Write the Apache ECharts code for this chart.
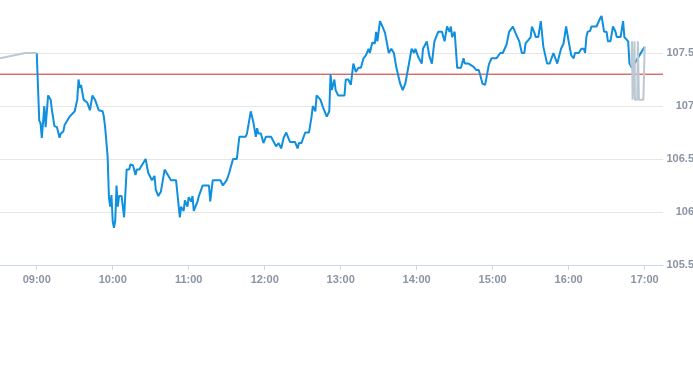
<!DOCTYPE html>
<html>
<head>
<meta charset="utf-8">
<script src="https://cdn.jsdelivr.net/npm/echarts@6/dist/echarts.min.js"></script>
<style>html,body{margin:0;padding:0;background:#fff}#c{width:693px;height:365px}</style>
</head>
<body>
<div id="c"></div>
<script>
// Regular session (blue)
const sessionTimes = ["09:00","09:02","09:03","09:04","09:06","09:07","09:09","09:11","09:12","09:14","09:16","09:18","09:19","09:21","09:22","09:26","09:30","09:32","09:33","09:34","09:35","09:36","09:37","09:40","09:42","09:44","09:46","09:49","09:52","09:53","09:54","09:56","09:57","09:58","09:59","10:00","10:01","10:02","10:03","10:04","10:05","10:07","10:09","10:11","10:13","10:14","10:16","10:18","10:19","10:21","10:26","10:28","10:31","10:33","10:34","10:36","10:38","10:41","10:46","10:50","10:53","10:54","10:56","10:57","10:59","11:00","11:02","11:03","11:04","11:07","11:08","11:11","11:16","11:17","11:19","11:25","11:27","11:30","11:32","11:35","11:38","11:40","11:45","11:46","11:49","11:51","11:53","11:54","11:55","11:57","11:59","12:01","12:05","12:09","12:11","12:13","12:15","12:17","12:20","12:24","12:26","12:27","12:29","12:32","12:35","12:37","12:38","12:40","12:41","12:44","12:46","12:49","12:51","12:52","12:53","12:55","12:56","12:58","13:03","13:04","13:06","13:08","13:10","13:12","13:14","13:16","13:18","13:20","13:22","13:23","13:25","13:27","13:28","13:29","13:31","13:33","13:35","13:38","13:40","13:42","13:44","13:47","13:49","13:51","13:53","13:56","13:58","13:59","14:01","14:04","14:05","14:08","14:10","14:12","14:14","14:17","14:20","14:22","14:24","14:26","14:27","14:28","14:30","14:32","14:35","14:37","14:38","14:41","14:45","14:47","14:49","14:50","14:52","14:54","14:55","14:57","14:59","15:03","15:06","15:08","15:11","15:13","15:16","15:18","15:21","15:23","15:25","15:26","15:28","15:30","15:31","15:33","15:34","15:36","15:38","15:40","15:43","15:45","15:48","15:51","15:54","15:56","15:58","16:00","16:02","16:04","16:05","16:08","16:10","16:12","16:13","16:14","16:15","16:17","16:18","16:22","16:25","16:26","16:28","16:30","16:31","16:33","16:35","16:37","16:38","16:41","16:43","16:44","16:47","16:48","16:50","16:53","16:56","17:00"];
const sessionPrices = [107.50,106.86,106.84,106.70,107.00,106.80,107.10,107.06,106.96,106.81,106.80,106.70,106.74,106.76,106.82,106.90,106.95,107.06,107.25,107.17,107.20,107.13,107.06,107.03,106.96,107.10,107.06,106.96,106.95,106.90,106.80,106.52,106.14,106.05,106.16,105.91,105.85,105.92,106.25,106.05,106.15,106.15,105.95,106.40,106.40,106.45,106.44,106.35,106.40,106.40,106.50,106.37,106.30,106.34,106.21,106.15,106.19,106.40,106.30,106.30,105.95,106.05,106.01,106.11,106.05,106.14,106.10,106.15,106.01,106.10,106.15,106.25,106.25,106.10,106.30,106.30,106.25,106.30,106.37,106.50,106.50,106.71,106.71,106.74,106.95,106.85,106.71,106.79,106.74,106.74,106.65,106.71,106.71,106.62,106.65,106.60,106.70,106.75,106.66,106.66,106.60,106.65,106.65,106.75,106.75,106.90,107.00,106.95,107.10,107.06,106.99,106.90,106.95,107.30,107.15,107.25,107.15,107.10,107.10,107.25,107.25,107.20,107.40,107.32,107.36,107.36,107.45,107.48,107.54,107.50,107.60,107.59,107.70,107.61,107.80,107.75,107.69,107.50,107.54,107.50,107.36,107.21,107.15,107.21,107.34,107.54,107.50,107.54,107.47,107.40,107.54,107.61,107.47,107.40,107.61,107.70,107.70,107.61,107.75,107.70,107.75,107.65,107.70,107.36,107.36,107.45,107.40,107.40,107.37,107.34,107.34,107.30,107.21,107.20,107.26,107.39,107.45,107.45,107.50,107.50,107.58,107.70,107.75,107.69,107.61,107.50,107.50,107.59,107.62,107.65,107.75,107.69,107.65,107.65,107.80,107.56,107.40,107.40,107.50,107.40,107.54,107.59,107.75,107.61,107.48,107.45,107.50,107.50,107.54,107.54,107.50,107.65,107.70,107.71,107.75,107.75,107.83,107.85,107.70,107.70,107.61,107.61,107.75,107.70,107.65,107.65,107.80,107.65,107.61,107.40,107.36,107.42,107.48,107.56];

// Extended hours (grey): pre-market, then after-hours
const preTimes = ["08:31","08:51","09:00"];
const prePrices = [107.45,107.50,107.50];
const postTimes = ["16:49:30","16:50:00","16:50:30","16:52:00","16:52:20","16:54:10","16:54:40","16:55:30","16:59:00","17:00:00"];
const postPrices = [107.38,107.61,107.06,107.61,107.06,107.06,107.61,107.06,107.06,107.56];

const previousClose = 107.30;
const hourTicks = ["09:00","10:00","11:00","12:00","13:00","14:00","15:00","16:00","17:00"];

function toMin(t){const p=t.split(':').map(Number);return p[0]*60+p[1]+(p[2]||0)/60;}
function fmt(m){const h=Math.floor(m/60),mm=Math.round(m-h*60);return (h<10?'0':'')+h+':'+(mm<10?'0':'')+mm;}

const blue = sessionTimes.map((t,i)=>[toMin(t),sessionPrices[i]]);
const grey = preTimes.map((t,i)=>[toMin(t),prePrices[i]])
  .concat([[toMin("09:01"),null]])
  .concat(postTimes.map((t,i)=>[toMin(t),postPrices[i]]));
const xMin = toMin("08:31"), xMax = toMin("17:14:30");
const closeLine = [[xMin,previousClose],[xMax,previousClose]];

const labelStyle = {color:'#8a94a3',fontSize:11,fontWeight:'bold',fontFamily:'Liberation Sans, Arial, sans-serif'};

const chart = echarts.init(document.getElementById('c'));
chart.setOption({
  animation:false,
  grid:{left:0,right:30,top:0,bottom:100,containLabel:false,outerBoundsMode:'none'},
  xAxis:{
    type:'value', min:xMin, max:xMax,
    axisLine:{show:true,lineStyle:{color:'#ccd6eb',width:1}},
    axisTick:{show:true,length:5,lineStyle:{color:'#ccd6eb'},customValues:hourTicks.map(toMin)},
    axisLabel:Object.assign({customValues:hourTicks.map(toMin),formatter:v=>fmt(v),margin:9},labelStyle),
    splitLine:{show:false}
  },
  yAxis:{
    type:'value', position:'right', min:105.5, max:108, interval:0.5,
    axisLine:{show:false}, axisTick:{show:false},
    axisLabel:Object.assign({align:'right',margin:31,showMaxLabel:false,formatter:v=>String(v)},labelStyle),
    splitLine:{show:true,showMaxLine:false,lineStyle:{color:'#e6e6e6',width:1}}
  },
  series:[
    {type:'line',data:closeLine,showSymbol:false,symbol:'none',silent:true,lineStyle:{color:'#cc2a2a',width:1},itemStyle:{color:'#cc2a2a'},z:1},
    {type:'line',data:blue,showSymbol:false,symbol:'none',lineStyle:{color:'#0f8fde',width:2},itemStyle:{color:'#0f8fde'},z:2},
    {type:'line',data:grey,showSymbol:false,symbol:'none',connectNulls:false,lineStyle:{color:'#bcc8d2',width:2},itemStyle:{color:'#bcc8d2'},z:3}
  ]
});
</script>
</body>
</html>
